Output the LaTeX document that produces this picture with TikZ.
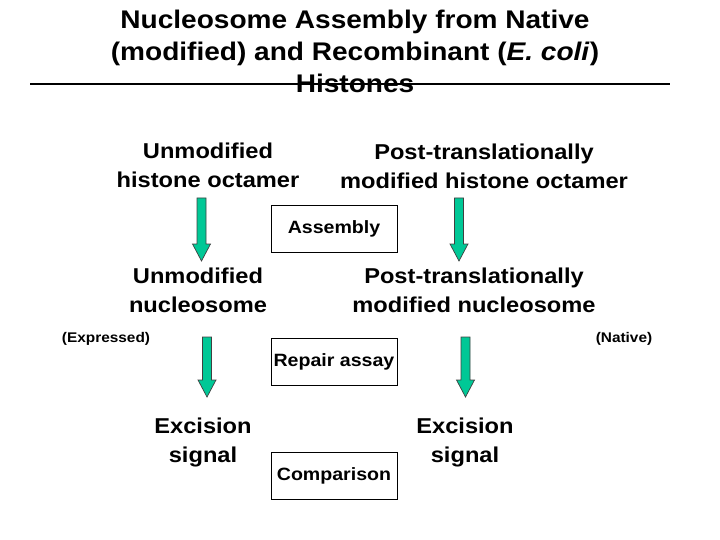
\documentclass[tikz,border=0pt]{standalone}
\usepackage{fontspec}
\setmainfont[FakeStretch=1.1]{Liberation Sans}
\usetikzlibrary{positioning}
\definecolor{arrteal}{RGB}{0,200,150}
\tikzset{
  ttl/.style={font=\fontsize{25.5}{32}\selectfont\bfseries,align=center,inner sep=0pt},
  lbl/.style={font=\fontsize{21.5}{29}\selectfont\bfseries,align=center,inner sep=0pt},
  tag/.style={font=\fontsize{14}{17}\selectfont\bfseries,inner sep=0pt},
  blk/.style={draw=black,line width=1pt,minimum width=126pt,minimum height=47pt,
              inner sep=0pt,font=\fontsize{17.8}{20}\selectfont\bfseries},
  pics/downarr/.style={code={
    \filldraw[fill=arrteal,draw=black!75,line width=0.7pt]
      (-4.5,0) -- (4.5,0) -- (4.5,#1-17) -- (9,#1-17) -- (0,#1)
      -- (-9,#1-17) -- (-4.5,#1-17) -- cycle;
  }},
}
\begin{document}
\begin{tikzpicture}[x=1pt,y=-1pt]
  \useasboundingbox (0,0) rectangle (720,540);
  % title
  \draw[line width=1.5pt] (30,84) -- (670,84);
  \node[ttl] (title) at (355,51)
    {Nucleosome Assembly from Native\\(modified) and Recombinant (\textit{E. coli})\\Histones};

  % histone octamers
  \node[lbl] (octU) at (208,165) {Unmodified\\histone octamer};
  \node[lbl] (octP) at (484,166) {Post-translationally\\modified histone octamer};
  \node[blk] (asm) at (334,229) {Assembly};
  \pic at (201.5,198) {downarr=63};
  \pic at (459,198) {downarr=63};

  % nucleosomes
  \node[lbl] (nucU) at (198,290) {Unmodified\\nucleosome};
  \node[lbl] (nucP) at (474,290) {Post-translationally\\modified nucleosome};
  \node[tag] (expr) at (106,339) {(Expressed)};
  \node[tag] (natv) at (624,339) {(Native)};
  \node[blk,below=85pt of asm] (rep) {Repair assay};
  \pic at (207,337) {downarr=60};
  \pic at (465.5,337) {downarr=60};

  % signals
  \node[lbl] (sigU) at (203,442) {Excision\\signal};
  \node[lbl] (sigP) at (465,442) {Excision\\signal};
  \node[blk,below=66pt of rep] (cmp) {Comparison};
\end{tikzpicture}
\end{document}
